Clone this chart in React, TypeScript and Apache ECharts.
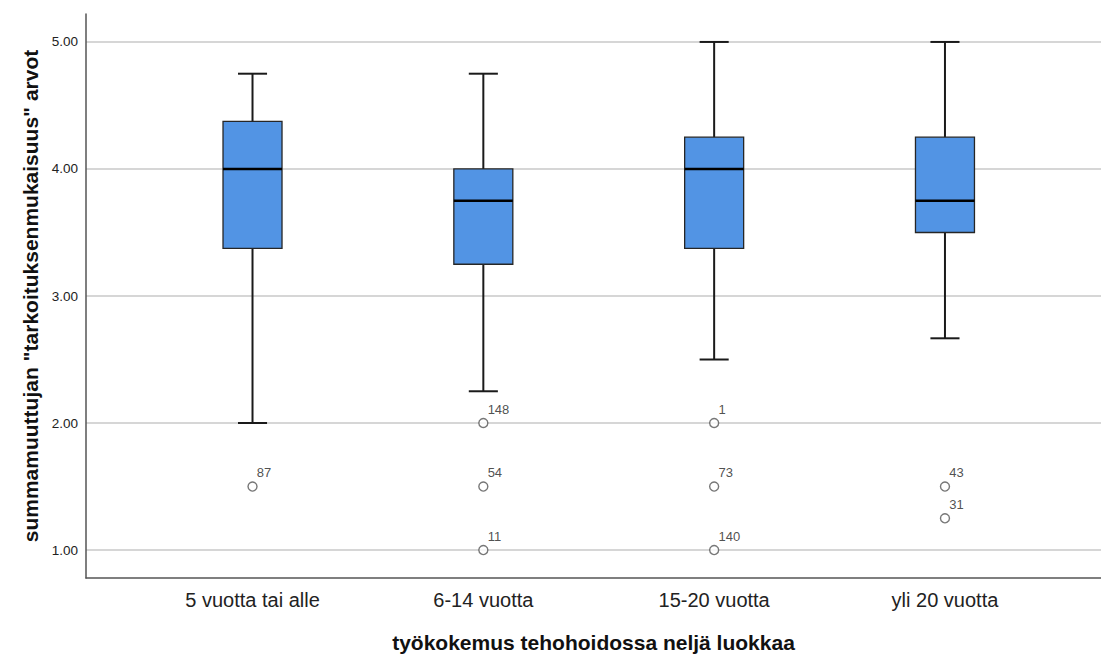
import React, { useEffect, useRef } from "react";
import * as echarts from "echarts";

const categories = ["5 vuotta tai alle", "6-14 vuotta", "15-20 vuotta", "yli 20 vuotta"];
const whiskerLow = [2.0, 2.25, 2.5, 2.667];
const q1 = [3.375, 3.25, 3.375, 3.5];
const median = [4.0, 3.75, 4.0, 3.75];
const q3 = [4.375, 4.0, 4.25, 4.25];
const whiskerHigh = [4.75, 4.75, 5.0, 5.0];

const outlierGroup = [0, 1, 1, 1, 2, 2, 2, 3, 3];
const outlierValue = [1.5, 2.0, 1.5, 1.0, 2.0, 1.5, 1.0, 1.5, 1.25];
const outlierCase = ["87", "148", "54", "11", "1", "73", "140", "43", "31"];

const yTicks = [1, 2, 3, 4, 5];

const FONT = "'Liberation Sans', Arial, sans-serif";

export default function App() {
  const ref = useRef<HTMLDivElement>(null);
  useEffect(() => {
    if (!ref.current) return;
    const chart = echarts.init(ref.current, null, { renderer: "svg" });
    const boxData = categories.map((_, i) => [i, whiskerLow[i], q1[i], median[i], q3[i], whiskerHigh[i]]);
    const outData = outlierValue.map((v, i) => ({ value: [outlierGroup[i], v], name: outlierCase[i] }));
    const BOX_W = 0.2556;
    const CAP_W = 0.126;
    chart.setOption({
      animation: false,
      backgroundColor: "#ffffff",
      grid: { left: 86, right: 0, top: 14, height: 568 },
      xAxis: {
        type: "value",
        min: -0.7214,
        max: 3.676,
        axisLine: { show: true, onZero: false, lineStyle: { color: "#555", width: 1.5 } },
        axisTick: { show: false, customValues: [0, 1, 2, 3] },
        splitLine: { show: false },
        axisLabel: {
          customValues: [0, 1, 2, 3],
          formatter: (v: number) => categories[Math.round(v)] ?? "",
          fontFamily: FONT,
          fontSize: 20,
          color: "#222",
          margin: 12,
        },
        name: "työkokemus tehohoidossa neljä luokkaa",
        nameLocation: "middle",
        nameGap: 54,
        nameTextStyle: { fontFamily: FONT, fontSize: 21, fontWeight: "bold", color: "#111" },
      },
      yAxis: {
        type: "value",
        min: 0.78,
        max: 5.22,
        axisLine: { show: true, onZero: false, lineStyle: { color: "#555", width: 1.5 } },
        axisTick: { show: false, customValues: yTicks },
        splitLine: { show: true, lineStyle: { color: "#c8c8c8", width: 1.5 } },
        axisLabel: {
          customValues: yTicks,
          formatter: (v: number) => v.toFixed(2),
          fontFamily: FONT,
          fontSize: 13.5,
          color: "#222",
          margin: 8,
        },
        name: 'summamuuttujan "tarkoituksenmukaisuus" arvot',
        nameLocation: "middle",
        nameGap: 40,
        nameTextStyle: { fontFamily: FONT, fontSize: 21, fontWeight: "bold", color: "#111" },
      },
      series: [
        {
          type: "custom",
          z: 2,
          data: boxData,
          encode: { x: 0, y: [1, 2, 3, 4, 5] },
          renderItem: (params: any, api: any) => {
            const x = api.value(0);
            const lo = api.coord([x, api.value(1)]);
            const b1 = api.coord([x, api.value(2)]);
            const md = api.coord([x, api.value(3)]);
            const b3 = api.coord([x, api.value(4)]);
            const hi = api.coord([x, api.value(5)]);
            const left = api.coord([x - BOX_W / 2, 1])[0];
            const right = api.coord([x + BOX_W / 2, 1])[0];
            const cl = api.coord([x - CAP_W / 2, 1])[0];
            const cr = api.coord([x + CAP_W / 2, 1])[0];
            const cx = lo[0];
            const wStyle = { stroke: "#1a1a1a", lineWidth: 2, fill: null };
            return {
              type: "group",
              children: [
                { type: "line", shape: { x1: cx, y1: hi[1], x2: cx, y2: b3[1] }, style: wStyle },
                { type: "line", shape: { x1: cx, y1: b1[1], x2: cx, y2: lo[1] }, style: wStyle },
                { type: "line", shape: { x1: cl, y1: hi[1], x2: cr, y2: hi[1] }, style: wStyle },
                { type: "line", shape: { x1: cl, y1: lo[1], x2: cr, y2: lo[1] }, style: wStyle },
                {
                  type: "rect",
                  shape: { x: left, y: b3[1], width: right - left, height: b1[1] - b3[1] },
                  style: { fill: "#5294e4", stroke: "#262626", lineWidth: 1.3 },
                },
                { type: "line", shape: { x1: left, y1: md[1], x2: right, y2: md[1] }, style: { stroke: "#000", lineWidth: 2.5 } },
              ],
            };
          },
        },
        {
          type: "scatter",
          z: 3,
          data: outData,
          symbol: "circle",
          symbolSize: 9,
          itemStyle: { color: "#ffffff", borderColor: "#555", borderWidth: 1.4 },
          label: {
            show: true,
            formatter: (p: any) => p.name,
            position: [9.5, -15],
            fontFamily: FONT,
            fontSize: 13,
            color: "#222",
          },
        },
      ],
    });
    return () => chart.dispose();
  }, []);
  return <div ref={ref} style={{ position: "fixed", left: 0, top: 0, width: 1101, height: 658 }} />;
}
